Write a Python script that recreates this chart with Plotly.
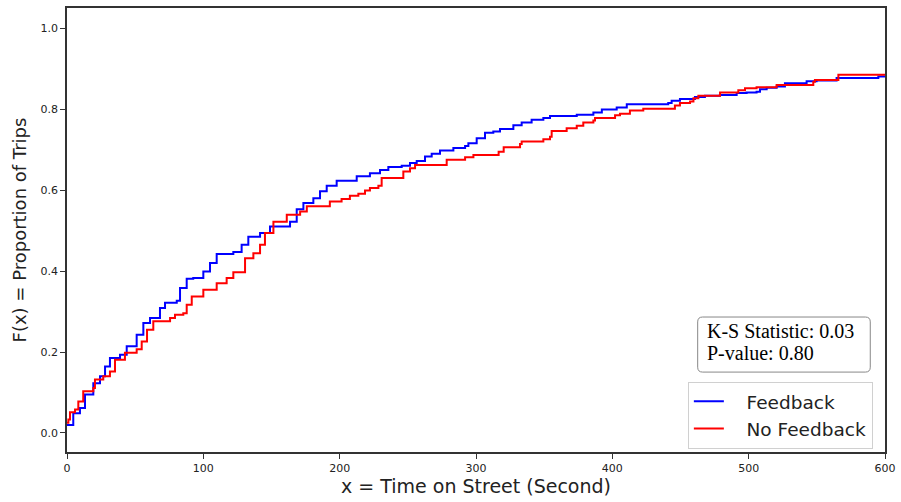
import plotly.graph_objects as go

# Feedback ECDF (seconds, proportion)
fb_x = [0, 4.6, 9.5, 13.2, 19.3, 24.2, 27.9, 31.5, 38.9, 43.8, 51.1, 56.0, 60.9, 68.2, 71.9,
        80.5, 82.9, 87.8, 92.6, 100.0, 104.9, 109.8, 122.0, 128.1, 133.0, 141.6, 148.9, 163.6,
        168.5, 173.4, 180.7, 185.6, 190.5, 197.8, 212.5, 222.2, 229.6, 235.7, 245.5, 251.6,
        256.5, 262.6, 267.5, 273.6, 283.4, 292.0, 294.4, 300.5, 306.6, 312.7, 317.6, 327.4,
        333.5, 340.8, 349.4, 354.3, 373.9, 386.1, 392.3, 403.2, 410.6, 441.0, 443.5, 449.6,
        460.6, 467.9, 478.9, 491.2, 498.5, 505.8, 508.3, 513.2, 520.5, 526.6, 542.5, 549.8,
        564.5, 595.1, 600]
fb_y = [0.020, 0.049, 0.062, 0.095, 0.123, 0.140, 0.164, 0.185, 0.193, 0.214, 0.243, 0.272,
        0.284, 0.309, 0.322, 0.327, 0.358, 0.381, 0.383, 0.399, 0.420, 0.442, 0.447, 0.465,
        0.485, 0.494, 0.510, 0.522, 0.553, 0.568, 0.580, 0.597, 0.611, 0.623, 0.634, 0.642,
        0.650, 0.657, 0.660, 0.667, 0.672, 0.683, 0.690, 0.698, 0.704, 0.709, 0.716, 0.728,
        0.742, 0.745, 0.751, 0.760, 0.767, 0.774, 0.778, 0.783, 0.786, 0.792, 0.799, 0.804,
        0.812, 0.815, 0.821, 0.825, 0.830, 0.833, 0.835, 0.840, 0.841, 0.843, 0.849, 0.853,
        0.856, 0.864, 0.869, 0.871, 0.877, 0.881, 0.881]

# No Feedback ECDF
nf_x = [0, 1.0, 2.2, 5.9, 8.3, 11.9, 19.3, 20.5, 26.6, 31.5, 35.2, 42.5, 51.1, 54.8, 58.7,
        63.3, 75.6, 79.2, 85.3, 87.8, 91.5, 100.0, 109.8, 117.1, 122.0, 130.6, 136.7, 141.6,
        145.2, 151.4, 161.2, 171.0, 175.9, 192.8, 201.4, 207.5, 213.7, 218.6, 222.2, 228.4,
        230.8, 246.7, 251.6, 255.3, 278.5, 292.0, 298.1, 316.6, 320.3, 332.3, 333.5, 349.4,
        354.3, 355.5, 366.5, 373.9, 378.7, 386.1, 387.3, 402.0, 405.6, 412.9, 422.7, 445.9,
        449.6, 457.0, 459.5, 463.1, 479.0, 492.4, 497.3, 505.8, 520.5, 547.4, 548.6, 565.8, 600]
nf_y = [0.025, 0.033, 0.051, 0.058, 0.078, 0.103, 0.111, 0.132, 0.140, 0.152, 0.181, 0.198,
        0.207, 0.226, 0.255, 0.276, 0.284, 0.292, 0.296, 0.317, 0.337, 0.354, 0.370, 0.383,
        0.397, 0.432, 0.444, 0.465, 0.494, 0.522, 0.539, 0.547, 0.560, 0.572, 0.578, 0.586,
        0.591, 0.599, 0.605, 0.611, 0.630, 0.646, 0.654, 0.662, 0.675, 0.681, 0.687, 0.695,
        0.706, 0.714, 0.720, 0.726, 0.732, 0.746, 0.753, 0.759, 0.767, 0.772, 0.778, 0.785,
        0.789, 0.797, 0.801, 0.809, 0.815, 0.819, 0.827, 0.833, 0.841, 0.847, 0.852, 0.854,
        0.860, 0.868, 0.872, 0.885, 0.885]

x_ticks = [0, 100, 200, 300, 400, 500, 600]
y_ticks = [0.0, 0.2, 0.4, 0.6, 0.8, 1.0]
ks_text = ["K-S Statistic: 0.03", "P-value: 0.80"]
series_names = ["Feedback", "No Feedback"]

pad = "\u00a0\u00a0\u00a0"
fig = go.Figure()
fig.add_trace(go.Scatter(x=fb_x, y=fb_y, mode="lines", name=pad + series_names[0],
                         line=dict(color="#0000ff", width=2, shape="hv")))
fig.add_trace(go.Scatter(x=nf_x, y=nf_y, mode="lines", name=pad + series_names[1],
                         line=dict(color="#ff0000", width=2, shape="hv")))

axis_common = dict(showline=True, mirror=True, linecolor="#333333", linewidth=1.5,
                   ticks="outside", ticklen=5, tickcolor="#333333", showgrid=False,
                   zeroline=False, automargin=False,
                   tickfont=dict(family="DejaVu Sans", size=11, color="#222"))

fig.update_xaxes(range=[0, 600], tickvals=x_ticks, **axis_common,
                 title=dict(text="x = Time on Street (Second)",
                            font=dict(family="DejaVu Sans", size=19, color="#222"), standoff=3))
fig.update_yaxes(range=[-0.047, 1.05], tickvals=y_ticks, tickformat=".1f", **axis_common,
                 title=dict(text="F(x) = Proportion of Trips",
                            font=dict(family="DejaVu Sans", size=18, color="#222"), standoff=9))

# rounded box for K-S stats (paper coords)
x0, x1, y0, y1 = 0.771, 0.982, 0.180, 0.304
rx, ry = 0.006, 0.011
path = (f"M {x0+rx},{y0} L {x1-rx},{y0} Q {x1},{y0} {x1},{y0+ry} L {x1},{y1-ry} "
        f"Q {x1},{y1} {x1-rx},{y1} L {x0+rx},{y1} Q {x0},{y1} {x0},{y1-ry} "
        f"L {x0},{y0+ry} Q {x0},{y0} {x0+rx},{y0} Z")
fig.add_shape(type="path", path=path, xref="paper", yref="paper",
              line=dict(color="#888888", width=1), fillcolor="white")
fig.add_annotation(x=0.780, y=0.272, xref="paper", yref="paper", text=ks_text[0],
                   showarrow=False, xanchor="left", yanchor="middle",
                   font=dict(family="Liberation Serif", size=20, color="black"))
fig.add_annotation(x=0.780, y=0.224, xref="paper", yref="paper", text=ks_text[1],
                   showarrow=False, xanchor="left", yanchor="middle",
                   font=dict(family="Liberation Serif", size=20, color="black"))

fig.update_layout(
    width=901, height=502,
    margin=dict(l=67, r=16, t=8, b=50, autoexpand=False),
    plot_bgcolor="white", paper_bgcolor="white",
    legend=dict(x=0.759, y=0.158, xanchor="left", yanchor="top",
                bordercolor="#d0d0d0", borderwidth=1, bgcolor="white",
                font=dict(family="DejaVu Sans", size=18.5, color="#222"),
                tracegroupgap=0, itemwidth=30),
    showlegend=True,
)

fig.write_html("out.html", config={"displayModeBar": False},
               post_script="document.body.style.margin='0';document.body.style.overflow='hidden';")
